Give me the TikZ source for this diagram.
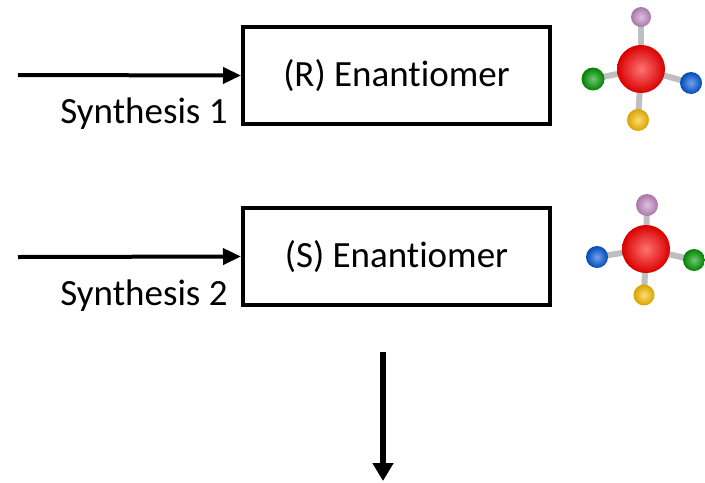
\documentclass[tikz,border=0pt]{standalone}
\usepackage{fontspec}
\setmainfont[Ligatures=NoCommon]{Carlito}
\usetikzlibrary{arrows.meta}

\tikzset{
  enbox/.style={draw, line width=2pt, minimum width=153.5pt, minimum height=48.5pt, font=\fontsize{18.5}{22}\selectfont},
  synlabel/.style={anchor=base east, inner sep=0pt, font=\fontsize{18.5}{22}\selectfont},
  feed/.style={line width=2pt, -{Triangle[length=9pt, width=8pt]}},
  bond/.style={gray!50, line width=3pt},
  atom/.style={inner color=#1!55!white, outer color=#1!85!black},
}

\begin{document}
\begin{tikzpicture}[x=0.5pt, y=-0.5pt]
  \useasboundingbox (0,0) rectangle (705,482);

  % the two boxes
  \node[enbox] (rbox) at (396.5,75.5) {(R) Enantiomer};
  \node[enbox] (sbox) at (396.5,256.5) {(S) Enantiomer};

  % incoming arrows
  \coordinate (in1) at (18,75);
  \coordinate (in2) at (18,257);
  \draw[feed] (in1) -- (rbox.west);
  \draw[feed] (in2) -- (sbox.west);
  \node[synlabel] (syn1) at (228,123) {Synthesis 1};
  \node[synlabel] (syn2) at (228,305) {Synthesis 2};

  % molecule for R
  \draw[bond] (641,69) -- (641,16);
  \draw[bond] (641,69) -- (593,79);
  \draw[bond] (641,69) -- (691,83);
  \draw[bond] (641,69) -- (638,120);
  \shade[atom=violet!45!white] (641,17) circle (10);
  \shade[atom=green!60!black] (593,79) circle (11.5);
  \shade[atom=blue!60!cyan!85!black] (691,83) circle (11);
  \shade[atom=orange!50!yellow] (638,120) circle (11);
  \shade[atom=red] (641,69) circle (24);

  % molecule for S
  \draw[bond] (646,249) -- (647,205);
  \draw[bond] (646,249) -- (597,257);
  \draw[bond] (646,249) -- (694,260);
  \draw[bond] (646,249) -- (644,295);
  \shade[atom=violet!45!white] (647,205) circle (11);
  \shade[atom=blue!60!cyan!85!black] (597,257) circle (11);
  \shade[atom=green!60!black] (694,260) circle (11);
  \shade[atom=orange!50!yellow] (644,295) circle (10.5);
  \shade[atom=red] (646,249) circle (24);

  % outgoing arrow
  \coordinate (down1) at (383,352);
  \coordinate (down2) at (383,481);
  \draw[line width=3pt, -{Triangle[length=9pt, width=10pt]}] (down1) -- (down2);
\end{tikzpicture}
\end{document}
